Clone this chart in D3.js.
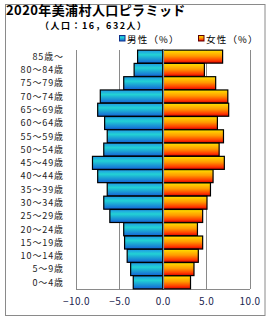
<!DOCTYPE html>
<html><head><meta charset="utf-8">
<script src="https://cdn.jsdelivr.net/npm/d3@7"></script>
<style>body{margin:0;background:#fff}svg{display:block}</style>
</head><body>
<script>
const categories = ["85歳～","80～84歳","75～79歳","70～74歳","65～69歳","60～64歳","55～59歳","50～54歳","45～49歳","40～44歳","35～39歳","30～34歳","25～29歳","20～24歳","15～19歳","10～14歳","5～9歳","0～4歳"];
const male = [2.9,3.3,4.5,7.2,7.5,6.7,6.4,6.8,8.1,7.5,6.4,6.8,6.1,4.5,4.4,4.1,3.7,3.4];
const female = [6.9,4.8,6.1,7.5,7.6,6.3,7.0,6.5,7.1,5.8,5.5,5.1,4.6,4.0,4.6,4.1,3.6,3.2];
const ticks = [-10,-5,0,5,10];
const tickLabels = ["−10.0","−5.0","0.0","5.0","10.0"];
const title = "2020年美浦村人口ピラミッド";
const subtitle = "（人口：16，632人）";
const seriesNames = ["男性（%）","女性（%）"];

const W = 270, H = 320;
const svg = d3.select("body").append("svg").attr("width", W).attr("height", H);
const defs = svg.append("defs");
const gm = defs.append("linearGradient").attr("id","gm").attr("x1",0).attr("y1",0).attr("x2",0).attr("y2",1);
[[0,"#2096e6"],[0.35,"#22d2d4"],[1,"#1462d6"]].forEach(s=>gm.append("stop").attr("offset",s[0]).attr("stop-color",s[1]));
const gf = defs.append("linearGradient").attr("id","gf").attr("x1",0).attr("y1",0).attr("x2",0).attr("y2",1);
[[0,"#ffe200"],[0.45,"#ff9a00"],[0.8,"#ff3a00"],[1,"#d80000"]].forEach(s=>gf.append("stop").attr("offset",s[0]).attr("stop-color",s[1]));

svg.append("rect").attr("x",5.5).attr("y",4.5).attr("width",259.5).attr("height",311).attr("fill","#fff").attr("stroke","#8a8a8a").attr("stroke-width",1);

const font = "'Noto Sans CJK JP', sans-serif";
svg.append("text").attr("x",6).attr("y",14.5).attr("font-family",font).attr("font-weight","bold").attr("font-size",13).attr("letter-spacing",0.4).attr("fill","#000").text(title);
svg.append("text").attr("x",40).attr("y",29).attr("font-family",font).attr("font-weight","bold").attr("font-size",9).attr("letter-spacing",1.5).attr("fill","#000").text(subtitle);

const x = d3.scaleLinear().domain([-10,10]).range([76,249.5]);
const y = d3.scaleBand().domain(categories).range([50,289]).paddingInner(0.02).paddingOuter(0.01);

// legend
const leg = [{x:119, fill:"url(#gm)", stroke:"#10308a", name:seriesNames[0]},{x:198, fill:"url(#gf)", stroke:"#600000", name:seriesNames[1]}];
leg.forEach(l=>{
  svg.append("rect").attr("x",l.x+0.5).attr("y",35.5).attr("width",5.5).attr("height",5.5).attr("fill",l.fill).attr("stroke",l.stroke);
  svg.append("text").attr("x",l.x+8).attr("y",43).attr("font-family",font).attr("font-size",9.5).attr("letter-spacing",1.2).attr("fill","#000").text(l.name);
});

// grid
const g = svg.append("g");
g.selectAll("line.grid").data(ticks.filter(t=>t!==0)).join("line")
  .attr("x1",d=>Math.round(x(d))+0.5).attr("x2",d=>Math.round(x(d))+0.5)
  .attr("y1",50).attr("y2",289).attr("stroke","#8a8a8a");
g.append("line").attr("x1",76).attr("x2",250).attr("y1",289.5).attr("y2",289.5).attr("stroke","#8a8a8a");

// bars
g.selectAll("rect.m").data(categories).join("rect")
  .attr("x",(d,i)=>x(-male[i])).attr("width",(d,i)=>x(0)-x(-male[i]))
  .attr("y",d=>y(d)).attr("height",y.bandwidth())
  .attr("fill","url(#gm)").attr("stroke","#000").attr("stroke-width",1.2);
g.selectAll("rect.f").data(categories).join("rect")
  .attr("x",x(0)).attr("width",(d,i)=>x(female[i])-x(0))
  .attr("y",d=>y(d)).attr("height",y.bandwidth())
  .attr("fill","url(#gf)").attr("stroke","#000").attr("stroke-width",1.2);

// zero line
g.append("line").attr("x1",Math.round(x(0))+0.5).attr("x2",Math.round(x(0))+0.5).attr("y1",50).attr("y2",289).attr("stroke","#6f8ea6").attr("stroke-width",1.2);

// category labels
const yAxis = d3.axisLeft(y).tickSize(0).tickPadding(0);
const ya = svg.append("g").attr("transform","translate(64,0)").call(yAxis);
ya.select(".domain").remove();
ya.selectAll("text").attr("font-family",font).attr("font-size",9).attr("letter-spacing",0.9).attr("fill","#222").attr("dy","0.36em");

// x tick labels
const xAxis = d3.axisBottom(x).tickValues(ticks).tickSize(0).tickPadding(0).tickFormat((d,i)=>tickLabels[i]);
const xa = svg.append("g").attr("transform","translate(0,298)").call(xAxis);
xa.select(".domain").remove();
xa.selectAll("text").attr("font-family",font).attr("font-size",10).attr("letter-spacing",0.4).attr("fill","#1a2650");
</script>
</body></html>
